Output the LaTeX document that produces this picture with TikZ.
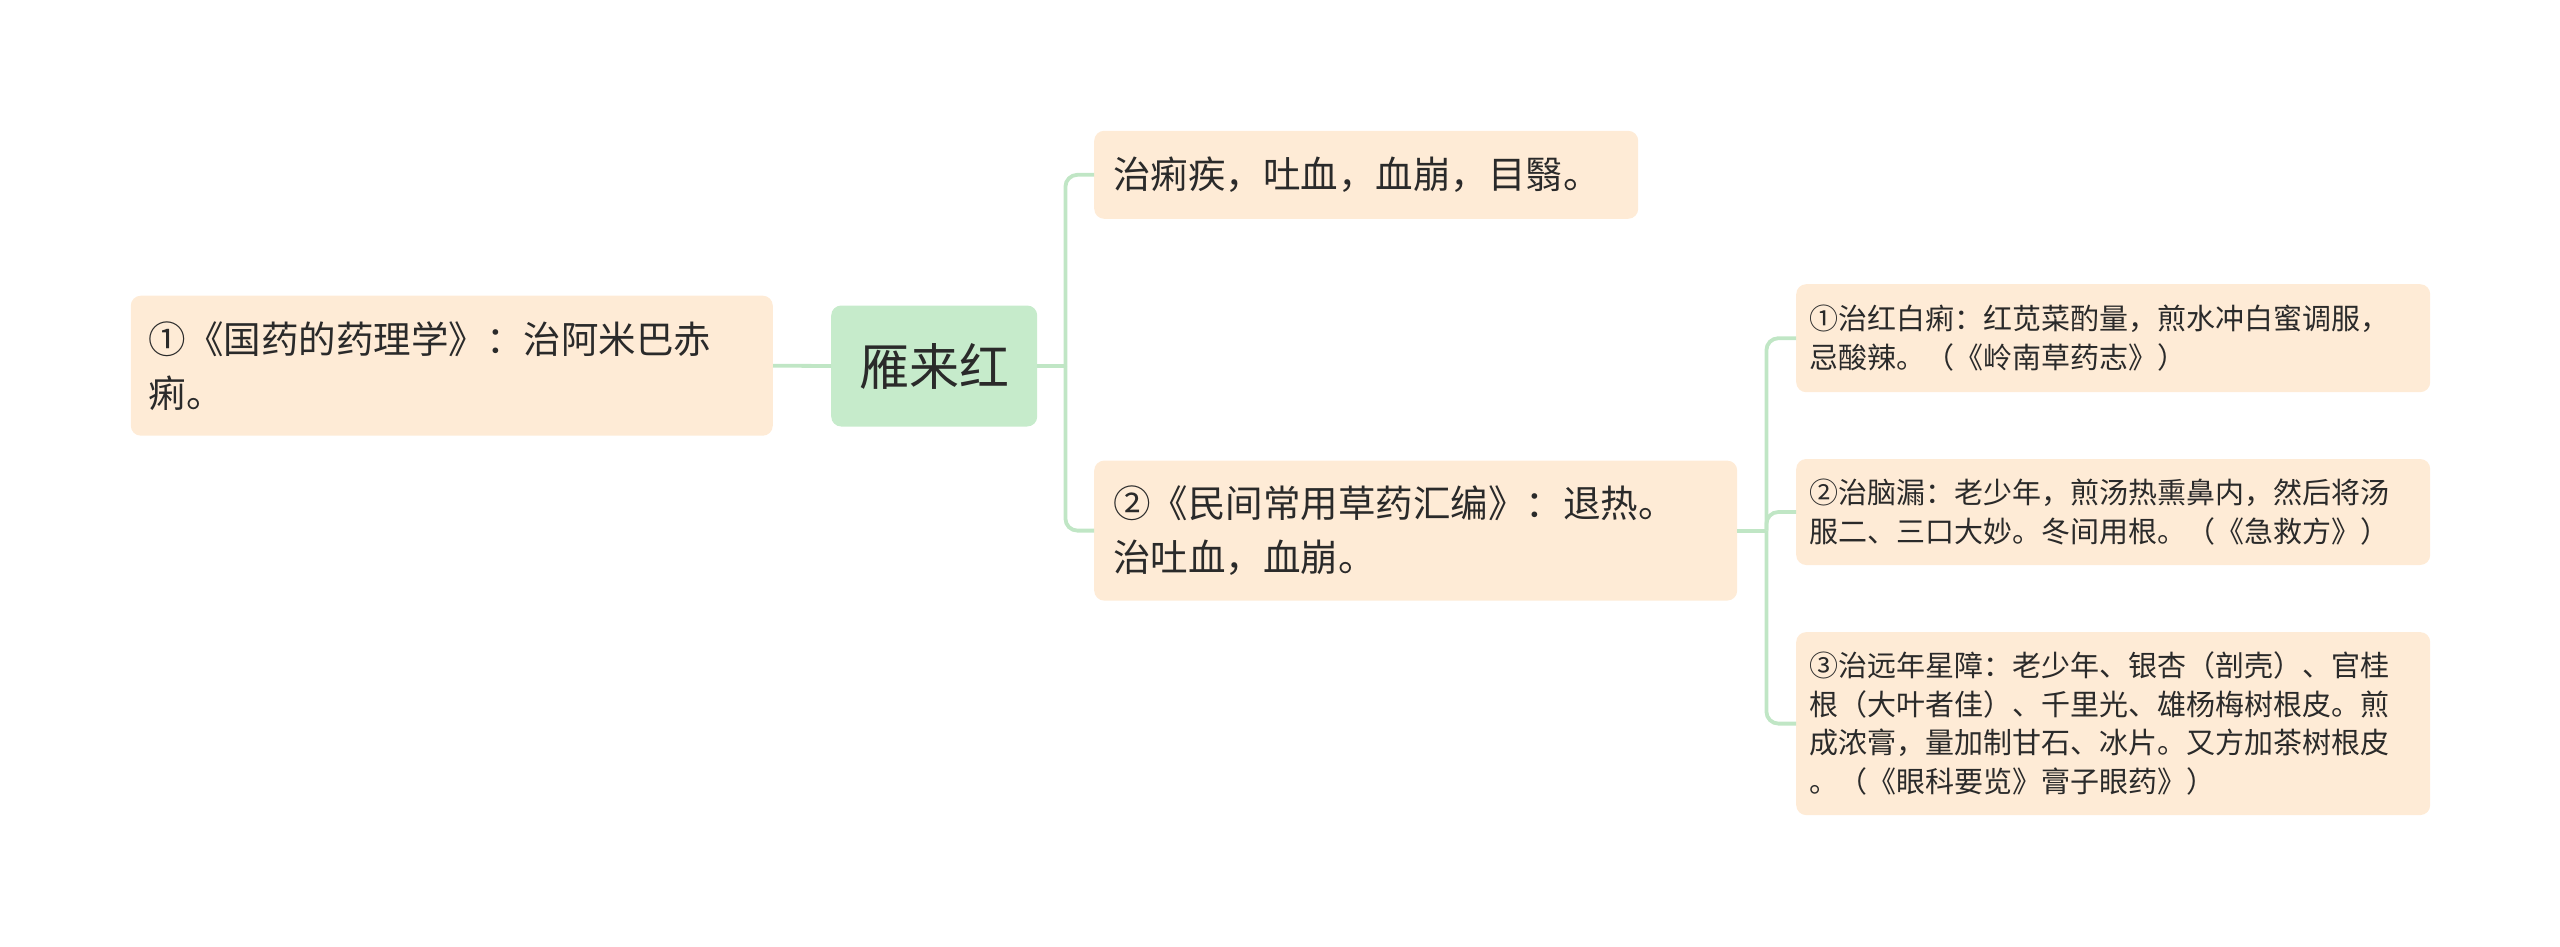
\documentclass[tikz,border=0pt]{standalone}
\usepackage{fontspec}
\setmainfont{Noto Sans CJK SC}
\definecolor{peach}{HTML}{FEEBD6}
\definecolor{mint}{HTML}{C6EBCB}
\definecolor{linec}{HTML}{C0E6C5}
\definecolor{txt}{HTML}{2A2A2A}
\begin{document}
\begin{tikzpicture}[x=1pt,y=-1pt,
  box/.style={anchor=north west, fill=peach, rounded corners=10pt, text=txt, align=left, inner xsep=0pt, inner ysep=0pt},
  bigtxt/.style={font=\fontsize{37.5}{54}\selectfont},
  smalltxt/.style={font=\fontsize{29}{38.5}\selectfont},
  conn/.style={draw=linec, line width=3.8pt, rounded corners=12pt}]
\useasboundingbox (0,0) rectangle (2560,947);
% nodes
\node[box, bigtxt, minimum width=642pt, minimum height=140pt, text width=606pt] (L) at (130.6,295.5)
  {①《国药的药理学》：治阿米巴赤\\痢。};
\node[anchor=north west, fill=mint, rounded corners=10pt, text=txt, minimum width=206pt, minimum height=121pt, inner sep=0pt, font=\fontsize{50}{60}\selectfont] (C) at (831,305.3) {雁来红};
\node[box, bigtxt, minimum width=544pt, minimum height=88pt, text width=506pt] (T) at (1094,130.6)
  {治痢疾，吐血，血崩，目翳。};
\node[box, bigtxt, minimum width=643pt, minimum height=140pt, text width=605pt] (M) at (1094,460.4)
  {②《民间常用草药汇编》：退热。\\治吐血，血崩。};
\node[box, smalltxt, minimum width=634pt, minimum height=108pt, text width=608pt] (R1) at (1796,284)
  {①治红白痢：红苋菜酌量，煎水冲白蜜调服，\\忌酸辣。（《岭南草药志》）};
\node[box, smalltxt, minimum width=634pt, minimum height=106pt, text width=608pt] (R2) at (1796,458.8)
  {②治脑漏：老少年，煎汤热熏鼻内，然后将汤\\服二、三口大妙。冬间用根。（《急救方》）};
\node[box, smalltxt, minimum width=634pt, minimum height=183pt, text width=608pt] (R3) at (1796,631.9)
  {③治远年星障：老少年、银杏（剖壳）、官桂\\根（大叶者佳）、千里光、雄杨梅树根皮。煎\\成浓膏，量加制甘石、冰片。又方加茶树根皮\\。（《眼科要览》膏子眼药》）};
% junctions
\coordinate (jc) at ([xshift=28pt]C.east);
\coordinate (jm) at ([xshift=29pt]M.east);
% connectors
\draw[conn] (L.east) -- (C.west);
\draw[conn] (C.east) -- (jc);
\draw[conn] (jc) |- (T.west);
\draw[conn] (jc) |- (M.west);
\draw[conn] (M.east) -- (jm);
\draw[conn] (jm) |- (R1.west);
\draw[conn] (jm) |- (R2.west);
\draw[conn] (jm) |- (R3.west);
\end{tikzpicture}
\end{document}
